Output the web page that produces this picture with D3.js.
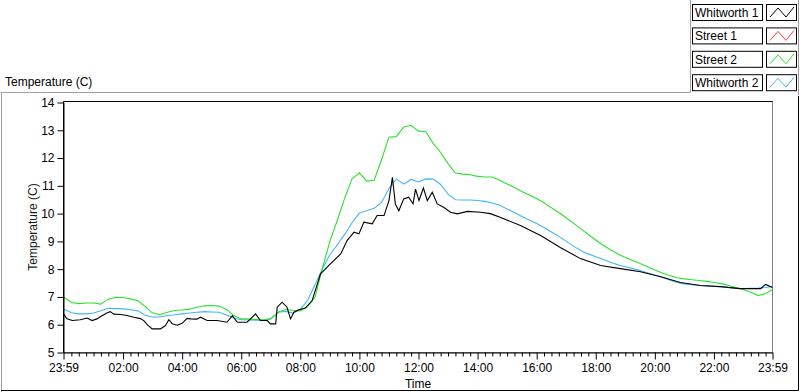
<!DOCTYPE html>
<html>
<head>
<meta charset="utf-8">
<script src="https://cdn.jsdelivr.net/npm/d3@7"></script>
<style>
  body { margin: 0; background: #fff; }
  svg { display: block; font-family: "Liberation Sans", Arial, sans-serif; }
  .axis text { font-size: 12px; fill: #000; }
</style>
</head>
<body>
<script>
// Logged temperatures, one day from 23:59 to 23:59
let seriesNames = ["Whitworth 1", "Street 1", "Street 2", "Whitworth 2"];
let seriesColors = ["#000000", "#ff3a3a", "#2ee02e", "#42b6f5"];

// shared 15 minute grid for Street 2 and Whitworth 2
let times = [
  "23:59",
  "00:15", "00:30", "00:45",
  "01:00", "01:15", "01:30", "01:45",
  "02:00", "02:15", "02:30", "02:45",
  "03:00", "03:15", "03:30", "03:45",
  "04:00", "04:15", "04:30", "04:45",
  "05:00", "05:15", "05:30", "05:45",
  "06:00", "06:15", "06:30", "06:45",
  "07:00", "07:15", "07:30", "07:45",
  "08:00", "08:15", "08:30", "08:45",
  "09:00", "09:15", "09:30", "09:45",
  "10:00", "10:15", "10:30", "10:45",
  "11:00", "11:15", "11:30", "11:45",
  "12:00", "12:15", "12:30", "12:45",
  "13:00", "13:15", "13:30", "13:45",
  "14:00", "14:15", "14:30", "14:45",
  "15:00", "15:15", "15:30", "15:45",
  "16:00", "16:15", "16:30", "16:45",
  "17:00", "17:15", "17:30", "17:45",
  "18:00", "18:15", "18:30", "18:45",
  "19:00", "19:15", "19:30", "19:45",
  "20:00", "20:15", "20:30", "20:45",
  "21:00", "21:15", "21:30", "21:45",
  "22:00", "22:15", "22:30", "22:45",
  "23:00", "23:15", "23:30", "23:45",
  "23:59"
];

let street2 = [
  7.00,
  6.80, 6.76, 6.78,
  6.78, 6.74, 6.92, 6.99,
  6.98, 6.93, 6.86, 6.65,
  6.42, 6.36, 6.45, 6.51,
  6.53, 6.56, 6.63, 6.68,
  6.69, 6.67, 6.55, 6.33,
  6.21, 6.20, 6.19, 6.18,
  6.22, 6.45, 6.55, 6.52,
  6.50, 6.65, 7.00, 8.05,
  9.00, 9.75, 10.55, 11.25,
  11.47, 11.17, 11.20, 11.95,
  12.75, 12.77, 13.12, 13.18,
  12.97, 12.95, 12.52, 12.20,
  11.80, 11.46, 11.42, 11.40,
  11.34, 11.32, 11.32, 11.20,
  11.07, 10.94, 10.80, 10.67,
  10.54, 10.39, 10.21, 10.04,
  9.85, 9.65, 9.45, 9.25,
  9.05, 8.86, 8.70, 8.55,
  8.42, 8.31, 8.20, 8.09,
  7.97, 7.86, 7.77, 7.69,
  7.65, 7.62, 7.59, 7.56,
  7.52, 7.48, 7.41, 7.34,
  7.26, 7.17, 7.05, 7.12,
  7.27
];

let whitworth2 = [
  6.57,
  6.43, 6.39, 6.39,
  6.42, 6.50, 6.59, 6.58,
  6.57, 6.54, 6.50, 6.34,
  6.28, 6.28, 6.33, 6.36,
  6.39, 6.42, 6.45, 6.47,
  6.46, 6.45, 6.35, 6.24,
  6.18, 6.17, 6.16, 6.15,
  6.21, 6.45, 6.48, 6.42,
  6.55, 6.88, 7.45, 8.02,
  8.52, 8.88, 9.25, 9.67,
  10.02, 10.10, 10.19, 10.40,
  10.90, 11.25, 11.06, 11.23,
  11.14, 11.25, 11.24, 11.05,
  10.70, 10.50, 10.49, 10.49,
  10.47, 10.44, 10.38, 10.30,
  10.17, 10.04, 9.90, 9.77,
  9.64, 9.50, 9.34, 9.18,
  9.00, 8.83, 8.66, 8.55,
  8.45, 8.35, 8.25, 8.16,
  8.09, 8.02, 7.95, 7.87,
  7.79, 7.71, 7.61, 7.52,
  7.47, 7.44, 7.41, 7.40,
  7.38, 7.37, 7.34, 7.31,
  7.30, 7.31, 7.32, 7.34,
  7.38
];

// Whitworth 1 is noisy, so it gets its own (uneven) sample times
let w1Times = [
  "23:59", "00:06", "00:17", "00:33", "00:47", "00:57", "01:07", "01:18",
  "01:28", "01:34", "01:41", "01:55", "02:08", "02:22", "02:35", "02:42",
  "02:49", "02:59", "03:16", "03:26", "03:33", "03:40", "03:50", "04:00",
  "04:10", "04:17", "04:30", "04:37", "04:51", "05:11", "05:31", "05:42",
  "05:52", "06:12", "06:29", "06:39", "06:53", "06:59", "07:10", "07:13",
  "07:23", "07:33", "07:40", "07:47", "07:57", "08:10", "08:24", "08:41",
  "09:01", "09:22", "09:35", "09:49", "09:59", "10:09", "10:26", "10:36",
  "10:50", "11:00", "11:07", "11:13", "11:20", "11:30", "11:40", "11:49",
  "11:54", "12:01", "12:10", "12:18", "12:28", "12:38", "12:51", "13:05",
  "13:19", "13:39", "14:06", "14:26", "14:47", "15:27", "16:08", "16:48",
  "17:29", "18:10", "18:50", "19:31", "20:12", "20:52", "21:33", "22:13",
  "22:54", "23:35", "23:45", "23:59"
];

let w1Temps = [
  6.39, 6.21, 6.15, 6.18, 6.24, 6.15, 6.21, 6.33,
  6.43, 6.47, 6.38, 6.37, 6.33, 6.27, 6.22, 6.15,
  6.00, 5.85, 5.85, 5.97, 6.18, 6.03, 5.98, 6.05,
  6.23, 6.21, 6.20, 6.27, 6.15, 6.15, 6.09, 6.33,
  6.09, 6.09, 6.39, 6.15, 6.15, 6.03, 6.03, 6.63,
  6.81, 6.63, 6.21, 6.45, 6.54, 6.60, 6.87, 7.83,
  8.19, 8.55, 9.03, 9.33, 9.27, 9.69, 9.63, 9.93,
  9.93, 10.47, 11.31, 10.35, 10.10, 10.53, 10.59, 10.35,
  10.88, 10.47, 10.92, 10.47, 10.77, 10.35, 10.23, 10.05,
  9.99, 10.08, 10.05, 10.00, 9.86, 9.57, 9.21, 8.78,
  8.38, 8.13, 8.02, 7.91, 7.73, 7.52, 7.41, 7.37,
  7.30, 7.30, 7.45, 7.34
];

let street1 = []; // nothing plotted for Street 1

let yTicks = [5, 6, 7, 8, 9, 10, 11, 12, 13, 14];
let xLabels = ["23:59", "02:00", "04:00", "06:00", "08:00", "10:00", "12:00",
  "14:00", "16:00", "18:00", "20:00", "22:00", "23:59"];

// first "23:59" is the evening before
function toDate(s, i) {
  let p = s.split(":").map(Number);
  return new Date(2000, 0, i === 0 ? 1 : 2, p[0], p[1]);
}

let width = 800, height = 392;
let plot = { left: 63.5, right: 772.5, top: 101.5, bottom: 352.5 };

let svg = d3.select("body").append("svg")
  .attr("width", width)
  .attr("height", height);

let x = d3.scaleTime()
  .domain([toDate("23:59", 0), toDate("23:59", 1)])
  .range([plot.left, plot.right]);

let y = d3.scaleLinear()
  .domain([5, 14])
  .range([plot.bottom, 102.5]);

// outer panel frame
svg.append("path")
  .attr("d", "M0.5,92.5H690.5V0 M1.5,92.5V392")
  .attr("fill", "none").attr("stroke", "#a0a0a0");
svg.append("path")
  .attr("d", "M798.5,0V95")
  .attr("fill", "none").attr("stroke", "#a0a0a0");
svg.append("path")
  .attr("d", "M798.5,96V390.5H1")
  .attr("fill", "none").attr("stroke", "#000");

// plot title
svg.append("text")
  .attr("x", 5).attr("y", 86)
  .style("font-size", "12px")
  .text("Temperature (C)");

// plot box
svg.append("rect")
  .attr("x", plot.left).attr("y", plot.top)
  .attr("width", plot.right - plot.left).attr("height", plot.bottom - plot.top)
  .attr("fill", "#fff").attr("stroke", "#808080");
svg.append("path")
  .attr("d", "M" + plot.left + "," + plot.bottom + "V" + plot.top + "H" + plot.right)
  .attr("fill", "none").attr("stroke", "#000");

// lines
let line = d3.line()
  .x(d => x(d.t))
  .y(d => y(d.v));

function makeSeries(ts, vs) {
  return ts.map((t, i) => ({ t: toDate(t, i), v: vs[i] }));
}

let plotted = [
  { data: makeSeries(times, whitworth2), color: seriesColors[3] },
  { data: makeSeries(times, street2), color: seriesColors[2] },
  { data: makeSeries([], street1), color: seriesColors[1] },
  { data: makeSeries(w1Times, w1Temps), color: seriesColors[0] }
];

svg.append("g")
  .selectAll("path")
  .data(plotted.filter(s => s.data.length))
  .enter().append("path")
  .attr("d", s => line(s.data))
  .attr("fill", "none")
  .attr("stroke", s => s.color)
  .attr("stroke-width", 1.1);

// y axis
let yAxis = svg.append("g")
  .attr("class", "axis")
  .attr("transform", "translate(" + plot.left + ",0)")
  .call(d3.axisLeft(y).tickValues(yTicks).tickSize(6).tickPadding(3).tickSizeOuter(0));
yAxis.select(".domain").attr("stroke", "#000");
yAxis.selectAll("line").attr("stroke", "#000");

// x axis, minor ticks every 15 minutes
let majorDates = xLabels.map(toDate);
let minorDates = times.slice(1, -1).map((t, i) => toDate(t, i + 1))
  .filter(d => d.getMinutes() !== 0 || d.getHours() % 2 !== 0);

let xMinor = svg.append("g")
  .attr("class", "axis")
  .attr("transform", "translate(0," + plot.bottom + ")")
  .call(d3.axisBottom(x).tickValues(minorDates).tickSize(4).tickFormat("").tickSizeOuter(0));
xMinor.select(".domain").remove();

let xAxis = svg.append("g")
  .attr("class", "axis")
  .attr("transform", "translate(0," + plot.bottom + ")")
  .call(d3.axisBottom(x).tickValues(majorDates).tickSize(7).tickPadding(4)
    .tickFormat(d3.timeFormat("%H:%M")).tickSizeOuter(0));
xAxis.select(".domain").attr("stroke", "#000");

// axis titles
svg.append("text")
  .attr("transform", "translate(37," + ((plot.top + plot.bottom) / 2) + ") rotate(-90)")
  .attr("text-anchor", "middle")
  .style("font-size", "12px")
  .attr("fill", "#1a1a1a")
  .text("Temperature (C)");

svg.append("text")
  .attr("x", (plot.left + plot.right) / 2)
  .attr("y", 388)
  .attr("text-anchor", "middle")
  .style("font-size", "12px")
  .text("Time");

// legend
let legend = svg.append("g")
  .selectAll("g")
  .data(seriesNames)
  .enter().append("g")
  .attr("transform", (d, i) => "translate(0," + (4 + i * 23.4) + ")");

legend.append("rect")
  .attr("x", 692.5).attr("y", 0.5)
  .attr("width", 70).attr("height", 16)
  .attr("fill", "#fff").attr("stroke", "#000");

legend.append("text")
  .attr("x", 695).attr("y", 13)
  .style("font-size", "12px")
  .text(d => d);

legend.append("rect")
  .attr("x", 766.5).attr("y", 0.5)
  .attr("width", 30).attr("height", 16)
  .attr("fill", "#fff").attr("stroke", "#000");

legend.append("path")
  .attr("d", "M770,13L778,4L786,13L794,3")
  .attr("fill", "none")
  .attr("stroke", (d, i) => seriesColors[i]);
</script>
</body>
</html>
